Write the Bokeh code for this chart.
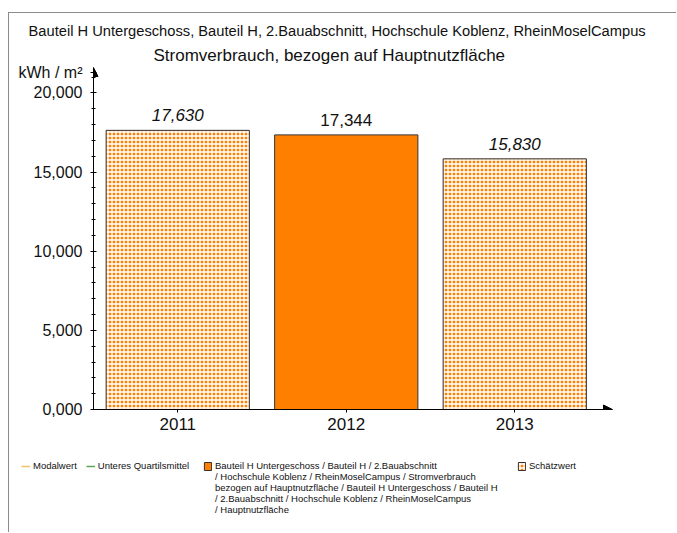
from bokeh.plotting import figure
from bokeh.layouts import column
from bokeh.models import (ColumnDataSource, Range1d, Legend, LegendItem, Title,
                          Arrow, NormalHead, FixedTicker)
from bokeh.core.properties import value
from bokeh.embed import file_html
from bokeh.resources import INLINE

# ---- data ----
years = ["2011", "2012", "2013"]
values = [17.630, 17.344, 15.830]
estimated = [True, False, True]
y_ticks = [0, 5, 10, 15, 20]
y_tick_labels = ["0,000", "5,000", "10,000", "15,000", "20,000"]
subtitle = "Bauteil H Untergeschoss, Bauteil H, 2.Bauabschnitt, Hochschule Koblenz, RheinMoselCampus"
title = "Stromverbrauch, bezogen auf Hauptnutzfläche"
unit = "kWh / m²"
series_label_lines = ["Bauteil H Untergeschoss / Bauteil H / 2.Bauabschnitt",
                      "/ Hochschule Koblenz / RheinMoselCampus / Stromverbrauch",
                      "bezogen auf Hauptnutzfläche / Bauteil H Untergeschoss / Bauteil H",
                      "/ 2.Bauabschnitt / Hochschule Koblenz / RheinMoselCampus",
                      "/ Hauptnutzfläche"]
legend_labels = ["Modalwert", "Unteres Quartilsmittel", series_label_lines[0], "Schätzwert"]

ORANGE = "#ff8000"
FONT = "Liberation Sans"
TXT = "#111111"
BAR_STYLE = dict(fill_color=ORANGE, line_color="#333333", line_width=1)
HATCH_STYLE = dict(hatch_pattern="+", hatch_color="white", hatch_scale=4, hatch_weight=1.4)
MOD_STYLE = dict(line_color="#f5c06a", line_width=1.5)
UQ_STYLE = dict(line_color="#58a858", line_width=1.5)
BORDER = "1px solid #8c8c8c"

Y_MAX = 21.6
UNIT_POS = 21.3          # where the unit text sits on the value axis
x_idx = list(range(len(years)))

W = 667
H_MAIN = 437
H_LEG = 82

p = figure(width=W, height=H_MAIN, x_range=Range1d(-0.5, 2.58), y_range=Range1d(0, Y_MAX),
           output_backend="svg", toolbar_location=None,
           min_border_left=84, min_border_right=64, min_border_top=54, min_border_bottom=41)
p.outline_line_color = None
p.grid.grid_line_color = None

est_src = ColumnDataSource(dict(x=[i for i, e in zip(x_idx, estimated) if e],
                                top=[v for v, e in zip(values, estimated) if e]))
meas_src = ColumnDataSource(dict(x=[i for i, e in zip(x_idx, estimated) if not e],
                                 top=[v for v, e in zip(values, estimated) if not e]))

p.vbar(x="x", top="top", width=0.85, source=est_src, **BAR_STYLE, **HATCH_STYLE)
p.vbar(x="x", top="top", width=0.85, source=meas_src, **BAR_STYLE)

lbl_src = ColumnDataSource(dict(
    x=x_idx, y=values,
    text=[f"{v:.3f}".replace(".", ",") for v in values],
    style=["italic" if e else "normal" for e in estimated]))
p.text(x="x", y="y", text="text", source=lbl_src, text_align="center",
       text_baseline="alphabetic", y_offset=-15, text_font=value(FONT),
       text_font_size="17px", text_font_style="style", text_color=TXT)

# y axis
yax = p.yaxis[0]
yax.ticker = FixedTicker(ticks=y_ticks + [UNIT_POS], minor_ticks=list(range(0, 22)))
overrides = {t: s for t, s in zip(y_ticks, y_tick_labels)}
overrides[UNIT_POS] = unit
yax.major_label_overrides = overrides
yax.major_tick_in = 3
yax.major_tick_out = 3
yax.minor_tick_in = 2
yax.minor_tick_out = 2
yax.major_label_standoff = 8
yax.major_label_text_font = FONT
yax.major_label_text_font_size = "16px"
yax.major_label_text_color = TXT
yax.axis_line_color = "black"

# x axis
xax = p.xaxis[0]
xax.ticker = FixedTicker(ticks=x_idx)
xax.major_label_overrides = {i: y for i, y in zip(x_idx, years)}
xax.major_tick_in = 0
xax.major_tick_out = 3
xax.minor_tick_line_color = None
xax.major_label_standoff = 5
xax.major_label_text_font = FONT
xax.major_label_text_font_size = "17px"
xax.major_label_text_color = TXT
xax.axis_line_color = "black"

# arrow heads on the axes
p.add_layout(Arrow(end=NormalHead(size=9, fill_color="black", line_color="black"),
                   x_start=-0.5, y_start=0, x_end=-0.5, y_end=Y_MAX, line_color="black", line_width=1))
p.add_layout(Arrow(end=NormalHead(size=9, fill_color="black", line_color="black"),
                   x_start=-0.5, y_start=0, x_end=2.58, y_end=0, line_color="black", line_width=1))

# titles (p.title is the outer one, the added Title sits next to the frame)
p.title = Title(text=subtitle, align="left", offset=-65, standoff=4,
                text_font=FONT, text_font_size="14.7px", text_font_style="normal", text_color=TXT)
p.add_layout(Title(text=title, align="left", offset=60, standoff=6,
                   text_font=FONT, text_font_size="17px", text_font_style="normal",
                   text_color=TXT), "above")

# ---- legend strip (proxy renderers share the bar sources, drawn out of view) ----
lg = figure(width=W, height=H_LEG, x_range=Range1d(50, 51), y_range=Range1d(50, 51),
            x_axis_type=None, y_axis_type=None, output_backend="svg", toolbar_location=None,
            min_border=0)
lg.outline_line_color = None
lg.grid.grid_line_color = None
for fig in (p, lg):
    if "frame_align" in fig.properties():
        fig.frame_align = False

r_mod = lg.line(x="x", y="top", source=meas_src, **MOD_STYLE)
r_uq = lg.line(x="x", y="top", source=meas_src, **UQ_STYLE)
r_meas = lg.vbar(x="x", top="top", width=0.85, source=meas_src, **BAR_STYLE)
r_est = lg.vbar(x="x", top="top", width=0.85, source=est_src, **BAR_STYLE, **HATCH_STYLE)
r_none = lg.line(x="x", y="top", source=meas_src, line_alpha=0)

LEG_STYLE = dict(orientation="horizontal", glyph_width=9, glyph_height=10, label_standoff=3,
                 spacing=9, padding=0, margin=0, border_line_color=None,
                 background_fill_alpha=0, label_text_font=FONT, label_text_font_size="9.5px",
                 label_text_color=TXT, label_text_line_height=1.15, label_height=10)

lg.add_layout(Legend(items=[LegendItem(label=legend_labels[0], renderers=[r_mod]),
                            LegendItem(label=legend_labels[1], renderers=[r_uq])],
                     location=(12, 61), **LEG_STYLE), "center")
lg.add_layout(Legend(items=[LegendItem(label=legend_labels[2], renderers=[r_meas])],
                     location=(194, 61), **LEG_STYLE), "center")
lg.add_layout(Legend(items=[LegendItem(label="\n".join(series_label_lines[1:]),
                                       renderers=[r_none])],
                     location=(194, 17), **LEG_STYLE), "center")
lg.add_layout(Legend(items=[LegendItem(label=legend_labels[3], renderers=[r_est])],
                     location=(508, 61), **LEG_STYLE), "center")

layout = column(p, lg, spacing=0,
                styles={"border-left": BORDER, "border-top": BORDER,
                        "margin-left": "8px", "margin-top": "12px"})

open("out.html", "w").write(file_html(layout, INLINE))
